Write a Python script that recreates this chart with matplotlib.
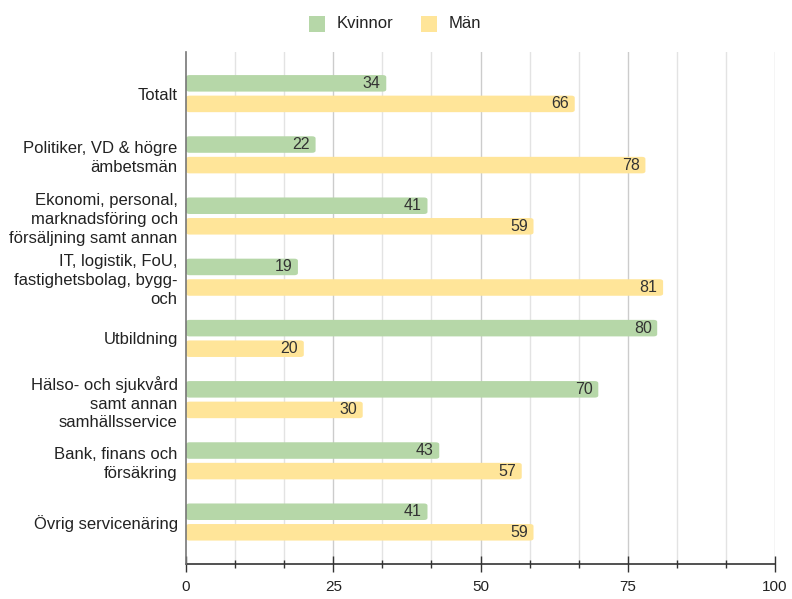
import matplotlib
matplotlib.use("Agg")
import matplotlib.pyplot as plt
import numpy as np
from matplotlib.patches import FancyBboxPatch, Rectangle

plt.rcParams['font.family'] = ['Liberation Sans', 'DejaVu Sans']

categories = [
    "Totalt",
    "Politiker, VD & högre\nämbetsmän",
    "Ekonomi, personal,\nmarknadsföring och\nförsäljning samt annan",
    "IT, logistik, FoU,\nfastighetsbolag, bygg-\noch",
    "Utbildning",
    "Hälso- och sjukvård\nsamt annan\nsamhällsservice",
    "Bank, finans och\nförsäkring",
    "Övrig servicenäring",
]
kvinnor = [34, 22, 41, 19, 80, 70, 43, 41]
man = [66, 78, 59, 81, 20, 30, 57, 59]
series_names = ["Kvinnor", "Män"]
x_ticks = [0, 25, 50, 75, 100]

GREEN = "#b6d7a8"
YELLOW = "#ffe599"
TEXT = "#222222"

W, H = 792, 599
fig = plt.figure(figsize=(W / 100, H / 100), dpi=100)
ax = fig.add_axes([186 / W, 1 - 564 / H, (775 - 186) / W, (564 - 52) / H])

n = len(categories)
y = np.arange(n)
bar_h = 0.27
off = 0.168

def rounded_bars(values, centers, color):
    for v, c in zip(values, centers):
        p = FancyBboxPatch((0, c - bar_h / 2), v, bar_h,
                           boxstyle="round,pad=0,rounding_size=0.6",
                           mutation_aspect=0.06,
                           facecolor=color, edgecolor="none", zorder=3)
        ax.add_patch(p)
        ax.annotate(f"{v}", xy=(v, c), xytext=(-4, 0), textcoords="offset points",
                    ha="right", va="center", fontsize=11.5, color="#333333", zorder=4)

rounded_bars(kvinnor, y - off, GREEN)
rounded_bars(man, y + off, YELLOW)

ax.set_xlim(0, 100)
ax.set_ylim(n - 1 + 0.686, -0.68)

# vertical gridlines every 25/3, slightly darker at labelled values
minor = np.arange(0, 100.01, 25 / 3)
for xv in minor:
    is_major = any(abs(xv - t) < 1e-6 for t in x_ticks)
    if 0 < xv:
        ax.axvline(xv, color="#cccccc" if is_major else "#e3e3e3", lw=1, zorder=1)

ax.set_yticks(y)
ax.set_yticklabels(categories, fontsize=12, color=TEXT, linespacing=1.32)
ax.tick_params(axis="y", length=0, pad=6)

ax.set_xticks(x_ticks)
ax.set_xticklabels([str(t) for t in x_ticks], fontsize=11, color=TEXT)
ax.set_xticks(minor, minor=True)
ax.tick_params(axis="x", which="major", direction="inout", length=11, width=1,
               color="#333333", pad=6)
ax.tick_params(axis="x", which="minor", direction="inout", length=6, width=1,
               color="#333333")

for s in ["top", "right"]:
    ax.spines[s].set_visible(False)
ax.spines["left"].set_color("#777777")
ax.spines["left"].set_linewidth(1.2)
ax.spines["bottom"].set_color("#333333")
ax.spines["bottom"].set_linewidth(1.2)
ax.spines["left"].set_zorder(5)

# legend: coloured squares with series names, centred above the plot
legend_items = [(309, GREEN, series_names[0]), (421, YELLOW, series_names[1])]
for px, color, name in legend_items:
    fig.patches.append(Rectangle((px / W, 1 - 32 / H), 16 / W, 16 / H,
                                 transform=fig.transFigure, facecolor=color,
                                 edgecolor="none"))
    fig.text((px + 28) / W, 1 - 24 / H, name, fontsize=12, color=TEXT,
             ha="left", va="center")

fig.savefig("out.png", dpi=100)
